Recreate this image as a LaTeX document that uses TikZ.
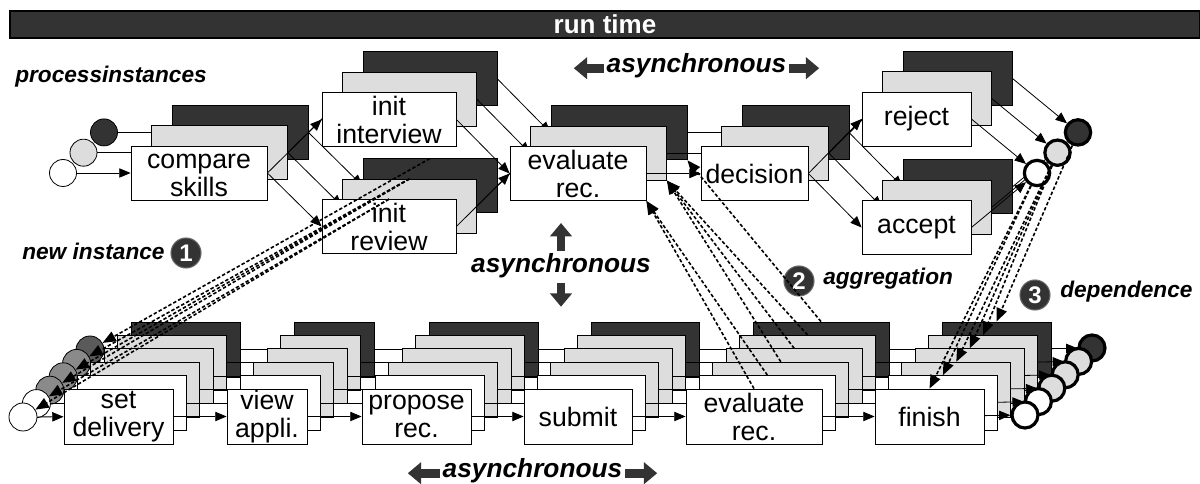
\documentclass[tikz,border=0pt]{standalone}
\usepackage{fontspec}
\setmainfont{Liberation Sans}
\usetikzlibrary{arrows.meta}

\definecolor{bardark}{HTML}{333333}
\definecolor{backgray}{HTML}{333333}
\definecolor{midgray}{HTML}{DDDDDD}
\definecolor{startgray}{HTML}{8A8A8A}
\definecolor{startdark}{HTML}{5A5A5A}

\tikzset{
  task/.style={draw=black, line width=0.6pt, inner sep=0pt, minimum height=40.5pt},
  tasklow/.style={task, minimum height=41.25pt},
  tasktext/.style={align=center, inner sep=0pt, font=\fontsize{20}{21}\selectfont},
  startc/.style={circle, draw=black, line width=0.6pt, minimum size=20.25pt, inner sep=0pt},
  endc/.style={circle, draw=black, line width=2.4pt, minimum size=19pt, inner sep=0pt},
  flow/.style={line width=0.6pt, -{Triangle[length=8.5pt,width=7pt]}},
  link/.style={line width=1.2pt, dash pattern=on 2.6pt off 1.6pt, -{Triangle[length=10pt,width=8pt]}},
  note/.style={font=\fontsize{17}{17}\selectfont\bfseries\itshape, inner sep=0pt},
  async/.style={font=\fontsize{19.7}{20}\selectfont\bfseries\itshape, inner sep=0pt},
  badge/.style={circle, fill=backgray, draw=black!60, line width=0.8pt, minimum size=22.5pt, inner sep=0pt, text=white, font=\fontsize{18}{18}\selectfont\bfseries},
  bigarrow/.style={line width=6.5pt, draw=backgray, -{Triangle[length=10pt,width=16pt]}}
}

\begin{document}
\begin{tikzpicture}[x=0.75pt,y=-0.75pt]
\useasboundingbox (0,0) rectangle (1200,484);

% title bar
\node[fill=bardark, draw=black, line width=0.8pt, minimum width=892.5pt, minimum height=20.25pt, inner sep=0pt,
  text=white, font=\fontsize{19.5}{19.5}\selectfont\bfseries] (bar) at (605,24.5) {run time};

% upper process, back layers first
\foreach \k/\col in {2/backgray,1/midgray,0/white}{
  \begin{scope}[shift={(\k*20.5,-\k*20.3)}]
    \node[startc, fill=\col] (ts\k) at (63,173) {};
    \node[task, fill=\col, minimum width=102pt] (cmp\k) at (199,173) {};
    \node[task, fill=\col, minimum width=100.5pt] (iiv\k) at (389,119.5) {};
    \node[task, fill=\col, minimum width=100.5pt] (irv\k) at (389,226.5) {};
    \node[task, fill=\col, minimum width=102pt] (evt\k) at (578,173.5) {};
    \node[task, fill=\col, minimum width=80.25pt] (dec\k) at (754.5,173.5) {};
    \node[task, fill=\col, minimum width=81.75pt] (rej\k) at (916.5,119) {};
    \node[task, fill=\col, minimum width=81.75pt] (acc\k) at (916.5,227.5) {};
    \node[endc, fill=\col] (te\k) at (1037,173) {};
    \draw[flow] (ts\k) -- (cmp\k);
    \draw[flow] (cmp\k.east) -- (iiv\k.west);
    \draw[flow] (cmp\k.east) -- (irv\k.west);
    \draw[flow] (iiv\k.east) -- (evt\k.west);
    \draw[flow] (irv\k.east) -- (evt\k.west);
    \draw[flow] (evt\k.east) -- (dec\k.west);
    \draw[flow] (dec\k.east) -- (rej\k.west);
    \draw[flow] (dec\k.east) -- (acc\k.west);
    \draw[flow] (rej\k.east) -- (te\k);
    \draw[flow] (acc\k.east) -- (te\k);
  \end{scope}
}

% lower process, six instances
\foreach \k/\col/\scol in {5/backgray/startdark,4/midgray/startgray,3/midgray/startgray,
                           2/midgray/startgray,1/white/white,0/white/white}{
  \begin{scope}[shift={(\k*13.4,-\k*13.4)}]
    \node[startc, minimum size=21pt, fill=\scol] (bs\k) at (23,417) {};
    \node[tasklow, fill=\col, minimum width=81.75pt] (sdl\k) at (118.5,416.5) {};
    \node[tasklow, fill=\col, minimum width=60pt] (vap\k) at (267,416.5) {};
    \node[tasklow, fill=\col, minimum width=81.75pt] (prp\k) at (416.5,416.5) {};
    \node[tasklow, fill=\col, minimum width=81pt] (sub\k) at (578,416.5) {};
    \node[tasklow, fill=\col, minimum width=102pt] (evb\k) at (754,416.5) {};
    \node[tasklow, fill=\col, minimum width=81.75pt] (fin\k) at (929.5,416.5) {};
    \node[endc, minimum size=19.5pt, fill=\col] (be\k) at (1025,415) {};
    \draw[flow] (bs\k) -- (sdl\k);
    \draw[flow] (sdl\k) -- (vap\k);
    \draw[flow] (vap\k) -- (prp\k);
    \draw[flow] (prp\k) -- (sub\k);
    \draw[flow] (sub\k) -- (evb\k);
    \draw[flow] (evb\k) -- (fin\k);
    \draw[flow] (fin\k) -- (be\k);
  \end{scope}
}

% task names
\node[tasktext] (cmpT) at ([yshift=-1.5pt]cmp0) {compare\\skills};
\node[tasktext] (iivT) at (iiv0) {init\\interview};
\node[tasktext] (irvT) at (irv0) {init\\review};
\node[tasktext] (evtT) at (evt0) {evaluate\\rec.};
\node[tasktext] (decT) at (dec0) {decision};
\node[tasktext] (rejT) at (rej0) {reject};
\node[tasktext] (accT) at (acc0) {accept};
\node[tasktext] (sdlT) at (sdl0) {set\\delivery};
\node[tasktext] (vapT) at (vap0) {view\\appli.};
\node[tasktext] (prpT) at (prp0) {propose\\rec.};
\node[tasktext] (subT) at (sub0) {submit};
\node[tasktext] (evbT) at (evb0) {evaluate\\rec.};
\node[tasktext] (finT) at (fin0) {finish};

% labels
\node[note, anchor=base west] (procL) at (15,83) {processinstances};
\node[badge] (b1) at (186,253) {1};
\node[note, anchor=base west] (newL) at (22,260) {new instance};
\node[badge] (b2) at (799,281) {2};
\node[note, anchor=base west] (aggL) at (823,285) {aggregation};
\node[badge] (b3) at (1035,295) {3};
\node[note, anchor=base west] (depL) at (1060,298) {dependence};

\node[async, anchor=base] (asyT) at (696.5,73) {asynchronous};
\draw[bigarrow] ([xshift=-2pt,yshift=-1.5pt]asyT.west) -- ++(-30,0);
\draw[bigarrow] ([xshift=2pt,yshift=-1.5pt]asyT.east) -- ++(30,0);
\node[async, anchor=base] (asyM) at (561,273) {asynchronous};
\draw[bigarrow] ([yshift=2pt]asyM.north) -- ++(0,-28);
\draw[bigarrow] ([yshift=-3pt]asyM.south) -- ++(0,24);
\node[async, anchor=base] (asyB) at (532.5,478) {asynchronous};
\draw[bigarrow] ([xshift=-2pt,yshift=-1.5pt]asyB.west) -- ++(-32,0);
\draw[bigarrow] ([xshift=2pt,yshift=-1.5pt]asyB.east) -- ++(32,0);

% new instance
\draw[link] (irv2.north) -- (bs5);
\foreach \k in {4,3,2}{\draw[link] (irv1.north) -- (bs\k);}
\foreach \k in {1,0}{\draw[link] (irv0.north) -- (bs\k);}
% aggregation
\foreach \k in {0,1}{\draw[link] (evb\k.north) -- (evt0.south east);}
\foreach \k in {2,3,4}{\draw[link] (evb\k.north) -- (evt1.south east);}
\draw[link] (evb5.north) -- (evt2.south east);
% dependence
\foreach \k in {0,1}{\draw[link] (te0) -- (fin\k.north);}
\foreach \k in {2,3,4}{\draw[link] (te1) -- (fin\k.north);}
\draw[link] (te2) -- (fin5.north);

\end{tikzpicture}
\end{document}
